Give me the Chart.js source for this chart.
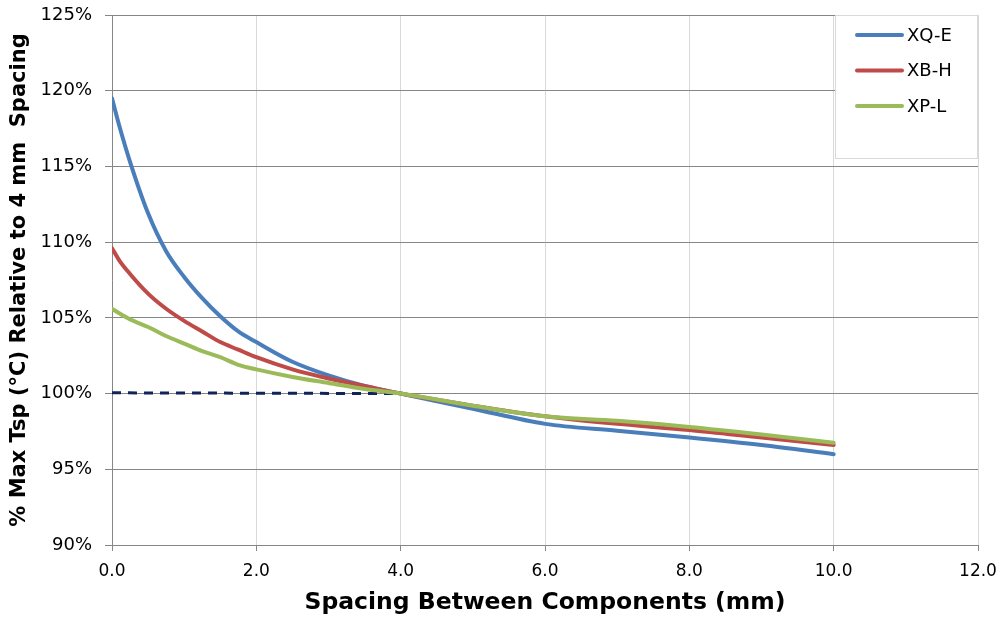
<!DOCTYPE html>
<html>
<head>
<meta charset="utf-8">
<script src="https://cdn.jsdelivr.net/npm/chart.js@4.4.1/dist/chart.umd.min.js"></script>
<style>
  html, body { margin: 0; padding: 0; background: #fff; }
  #wrap { width: 1002px; height: 621px; }
</style>
</head>
<body>
<div id="wrap"><canvas id="chart" width="1002" height="621"></canvas></div>
<script>
// ===================================================================
// DATA
// ===================================================================
const spacing = [0, 0.1, 0.25, 0.5, 0.75, 1.0, 1.25, 1.5, 1.75, 2.0, 2.5, 3.0, 3.5, 4.0, 5.0, 6.0, 7.0, 8.0, 9.0, 10.0];
const xqE = [119.5, 117.7, 115.3, 111.9, 109.4, 107.7, 106.3, 105.1, 104.1, 103.4, 102.1, 101.2, 100.5, 100.0, 99.0, 98.0, 97.55, 97.1, 96.6, 96.0];
const xbH = [109.6, 108.8, 107.9, 106.6, 105.6, 104.8, 104.1, 103.4, 102.9, 102.4, 101.6, 101.0, 100.5, 100.0, 99.2, 98.5, 98.0, 97.6, 97.1, 96.6];
const xpL = [105.6, 105.3, 104.9, 104.4, 103.8, 103.3, 102.8, 102.4, 101.9, 101.6, 101.1, 100.7, 100.3, 100.0, 99.2, 98.5, 98.2, 97.8, 97.3, 96.75];
const refX = [0, 4];
const refY = [100.05, 100.0];

const seriesNames = ['XQ-E', 'XB-H', 'XP-L'];
const seriesColors = ['#4A7EBB', '#BE4B48', '#9BBB59'];

const toPoints = (xs, ys) => xs.map((x, i) => ({ x: x, y: ys[i] }));

const FONT = "'DejaVu Sans', Verdana, sans-serif";

// legend drawn as a white box inside the plot, top right
const boxLegend = {
    id: 'boxLegend',
    afterDatasetsDraw(chart) {
        const ctx = chart.ctx;
        const top = chart.chartArea.top;
        ctx.save();
        ctx.fillStyle = '#ffffff';
        ctx.fillRect(835, top, 142, 143);
        ctx.strokeStyle = '#d9d9d9';
        ctx.lineWidth = 1;
        ctx.strokeRect(835.5, top + 0.5, 142, 143);
        ctx.font = '18px ' + FONT;
        ctx.textBaseline = 'middle';
        ctx.textAlign = 'left';
        seriesNames.forEach((name, i) => {
            const y = top + 20 + i * 35.5;
            ctx.strokeStyle = seriesColors[i];
            ctx.lineWidth = 4;
            ctx.lineCap = 'round';
            ctx.beginPath();
            ctx.moveTo(857, y);
            ctx.lineTo(902, y);
            ctx.stroke();
            ctx.fillStyle = '#000';
            ctx.fillText(name, 907, y + 1);
        });
        ctx.restore();
    }
};

const lineSet = (label, ys, color, order) => ({
    label: label,
    data: toPoints(spacing, ys),
    borderColor: color,
    backgroundColor: color,
    borderWidth: 4,
    pointRadius: 0,
    cubicInterpolationMode: 'monotone',
    borderCapStyle: 'round',
    order: order
});

new Chart(document.getElementById('chart'), {
    type: 'line',
    data: {
        datasets: [
            lineSet(seriesNames[0], xqE, seriesColors[0], 4),
            lineSet(seriesNames[1], xbH, seriesColors[1], 3),
            lineSet(seriesNames[2], xpL, seriesColors[2], 2),
            {
                label: 'ref',
                data: toPoints(refX, refY),
                borderColor: '#10245a',
                borderWidth: 3,
                borderDash: [9, 7],
                pointRadius: 0,
                order: 5
            }
        ]
    },
    options: {
        responsive: false,
        animation: false,
        layout: { padding: { top: 15, right: 24, left: 0, bottom: 0 } },
        plugins: {
            legend: { display: false },
            tooltip: { enabled: false }
        },
        scales: {
            x: {
                type: 'linear',
                min: 0,
                max: 12,
                afterFit: s => { s.height = 76; s.paddingLeft = 0; s.paddingRight = 0; },
                ticks: {
                    stepSize: 2,
                    padding: 10,
                    color: '#000',
                    font: { family: FONT, size: 17 },
                    callback: v => v.toFixed(1)
                },
                grid: { color: '#d9d9d9', tickColor: '#868686', tickLength: 6, lineWidth: 1 },
                border: { color: '#868686', width: 1 },
                title: {
                    display: true,
                    text: 'Spacing Between Components (mm)',
                    color: '#000',
                    font: { family: FONT, size: 23.5, weight: 'bold' },
                    padding: { top: 0, bottom: 4 }
                }
            },
            y: {
                min: 90,
                max: 125,
                afterFit: s => { s.width = 112; s.paddingTop = 0; s.paddingBottom = 0; },
                ticks: {
                    stepSize: 5,
                    padding: 13,
                    color: '#000',
                    font: { family: FONT, size: 18 },
                    callback: v => v + '%'
                },
                grid: { color: '#868686', tickColor: '#868686', tickLength: 7, lineWidth: 1 },
                border: { color: '#868686', width: 1 },
                title: {
                    display: true,
                    text: '% Max Tsp (°C) Relative to 4 mm  Spacing',
                    color: '#000',
                    font: { family: FONT, size: 21, weight: 'bold' },
                    padding: { top: 7, bottom: 0 }
                }
            }
        }
    },
    plugins: [boxLegend]
});
</script>
</body>
</html>
